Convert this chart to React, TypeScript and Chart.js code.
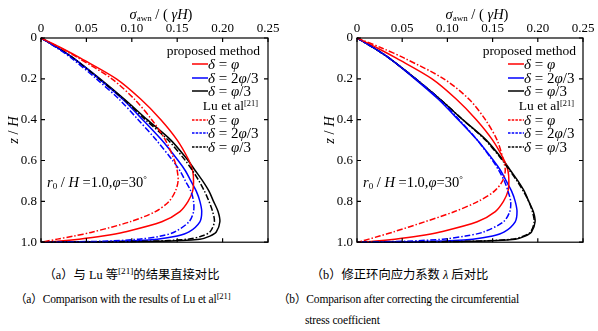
import React, { useEffect, useRef } from "react";
import { Chart, registerables } from "chart.js";

Chart.register(...registerables);

// ---------- data ----------
// normalised depth z/H (shared sampling for every curve)
const depth = [0, 0.05, 0.1, 0.2, 0.3, 0.4, 0.5, 0.6, 0.65, 0.7, 0.75, 0.8, 0.85, 0.9, 0.95, 0.97, 0.985, 0.995, 1];

// proposed method (identical in both panels)
const propPhi = [0, 0.023, 0.044, 0.083, 0.11, 0.132, 0.15, 0.163, 0.167, 0.168, 0.167, 0.162, 0.153, 0.133, 0.092, 0.068, 0.042, 0.018, 0];
const prop2Phi3 = [0, 0.019, 0.036, 0.064, 0.09, 0.112, 0.133, 0.151, 0.159, 0.165, 0.171, 0.175, 0.177, 0.175, 0.163, 0.15, 0.128, 0.085, 0];
const propPhi3 = [0, 0.019, 0.036, 0.065, 0.092, 0.117, 0.143, 0.162, 0.17, 0.178, 0.185, 0.19, 0.195, 0.197, 0.193, 0.186, 0.175, 0.13, 0];

// Lu et al [21] — panel (a): direct results
const luPhiA = [0, 0.022, 0.042, 0.078, 0.103, 0.122, 0.137, 0.147, 0.15, 0.151, 0.148, 0.141, 0.126, 0.098, 0.057, 0.036, 0.018, 0.006, 0];
const lu2Phi3A = [0, 0.018, 0.034, 0.061, 0.086, 0.107, 0.127, 0.145, 0.153, 0.159, 0.165, 0.168, 0.168, 0.163, 0.147, 0.132, 0.108, 0.07, 0];
const luPhi3A = [0, 0.019, 0.036, 0.064, 0.091, 0.115, 0.14, 0.159, 0.167, 0.174, 0.18, 0.185, 0.189, 0.191, 0.186, 0.177, 0.162, 0.12, 0];

// Lu et al [21] — panel (b): after correcting the circumferential stress coefficient
const luPhiB = [0, 0.028, 0.053, 0.096, 0.124, 0.142, 0.155, 0.162, 0.164, 0.161, 0.152, 0.134, 0.108, 0.075, 0.04, 0.025, 0.013, 0.005, 0];
const lu2Phi3B = [0, 0.019, 0.036, 0.065, 0.091, 0.113, 0.133, 0.15, 0.157, 0.163, 0.167, 0.17, 0.169, 0.162, 0.14, 0.12, 0.095, 0.055, 0];
const luPhi3B = [0, 0.019, 0.036, 0.065, 0.092, 0.117, 0.142, 0.161, 0.169, 0.177, 0.184, 0.19, 0.194, 0.196, 0.192, 0.184, 0.172, 0.13, 0];

// axis ticks
const xTicks = [0, 0.05, 0.1, 0.15, 0.2, 0.25];
const xTickLabels = ["0", "0.05", "0.10", "0.15", "0.20", "0.25"];
const yTicks = [0, 0.2, 0.4, 0.6, 0.8, 1.0];
const yTickLabels = ["0", "0.2", "0.4", "0.6", "0.8", "1.0"];

const RED = "#ff0000";
const BLUE = "#0000ff";
const BLACK = "#000000";
const DASHDOT = [6, 2, 1.5, 2];
const FONT = '"Liberation Serif", "Times New Roman", serif';
const CJK = '"Liberation Serif", "Noto Sans CJK SC", serif';

// ---------- chart ----------
const framePlugin = {
  id: "frame",
  afterDatasetsDraw(chart: any) {
    const { ctx, chartArea } = chart;
    const { left, right, top, bottom } = chartArea;
    const xs = chart.scales.x;
    const ys = chart.scales.y;
    ctx.save();
    ctx.strokeStyle = "#000";
    ctx.lineWidth = 1.2;
    ctx.strokeRect(left, top, right - left, bottom - top);
    const L = 4;
    ctx.beginPath();
    xTicks.forEach((t) => {
      const p = xs.getPixelForValue(t);
      ctx.moveTo(p, top);
      ctx.lineTo(p, top + L);
      ctx.moveTo(p, bottom);
      ctx.lineTo(p, bottom - L);
    });
    yTicks.forEach((t) => {
      const p = ys.getPixelForValue(t);
      ctx.moveTo(left, p);
      ctx.lineTo(left + L, p);
      ctx.moveTo(right, p);
      ctx.lineTo(right - L, p);
    });
    ctx.stroke();
    ctx.restore();
  },
};

function series(vals: number[], color: string, dashed: boolean) {
  return {
    data: depth.map((z, i) => ({ x: vals[i], y: z })),
    borderColor: color,
    borderWidth: 1.5,
    borderDash: dashed ? DASHDOT : [],
    showLine: true,
    pointRadius: 0,
    tension: 0.3,
    fill: false,
    clip: 2,
  };
}

const CANVAS_H = 254;

function PanelChart({ lu, axisWidth, padRight }: { lu: number[][]; axisWidth: number; padRight: number }) {
  const ref = useRef<HTMLCanvasElement>(null);
  useEffect(() => {
    if (!ref.current) return;
    const chart = new Chart(ref.current, {
      type: "scatter",
      data: {
        datasets: [
          series(lu[0], RED, true),
          series(lu[1], BLUE, true),
          series(lu[2], BLACK, true),
          series(propPhi, RED, false),
          series(prop2Phi3, BLUE, false),
          series(propPhi3, BLACK, false),
        ] as any,
      },
      options: {
        animation: false,
        responsive: false,
        devicePixelRatio: 1,
        layout: { padding: { left: 0, top: 0, right: padRight, bottom: 0 } },
        plugins: { legend: { display: false }, tooltip: { enabled: false } },
        scales: {
          x: {
            type: "linear",
            position: "top",
            min: 0,
            max: 0.25,
            grid: { display: false, drawTicks: false },
            border: { display: false },
            afterBuildTicks: (s: any) => {
              s.ticks = xTicks.map((v) => ({ value: v }));
            },
            ticks: {
              padding: 2,
              color: "#000",
              maxRotation: 0,
              autoSkip: false,
              font: { family: FONT, size: 13 },
              callback: (v: any) => xTickLabels[xTicks.findIndex((t) => Math.abs(t - v) < 1e-9)] ?? "",
            },
            afterFit: (s: any) => {
              s.height = 38;
            },
          },
          y: {
            type: "linear",
            reverse: true,
            min: 0,
            max: 1,
            grid: { display: false, drawTicks: false },
            border: { display: false },
            afterBuildTicks: (s: any) => {
              s.ticks = yTicks.map((v) => ({ value: v }));
            },
            ticks: {
              padding: 4,
              color: "#000",
              autoSkip: false,
              font: { family: FONT, size: 13 },
              callback: (v: any) => yTickLabels[yTicks.findIndex((t) => Math.abs(t - v) < 1e-9)] ?? "",
            },
            afterFit: (s: any) => {
              s.width = axisWidth;
            },
          },
        },
      } as any,
      plugins: [framePlugin],
    });
    return () => chart.destroy();
  }, []);
  return <canvas ref={ref} width={299} height={CANVAS_H} style={{ display: "block", width: 299, height: CANVAS_H }} />;
}

// ---------- text helpers ----------
function T({
  x,
  y,
  align = "left",
  size = 13,
  font = FONT,
  spacing = 0,
  children,
}: {
  x: number;
  y: number;
  align?: "left" | "center" | "right";
  size?: number;
  font?: string;
  spacing?: number;
  children: React.ReactNode;
}) {
  const tx = align === "right" ? "-100%" : align === "center" ? "-50%" : "0";
  return (
    <div
      style={{
        position: "absolute",
        left: x,
        top: y,
        transform: `translate(${tx}, -50%)`,
        fontFamily: font,
        fontSize: size,
        letterSpacing: spacing,
        lineHeight: 1,
        whiteSpace: "nowrap",
        color: "#000",
      }}
    >
      {children}
    </div>
  );
}

const subStyle: React.CSSProperties = { fontSize: "0.62em", verticalAlign: "-0.3em", lineHeight: 0 };
const supStyle: React.CSSProperties = { fontSize: "0.62em", verticalAlign: "0.55em", lineHeight: 0 };
const capSup: React.CSSProperties = { fontSize: "0.75em", verticalAlign: "0.5em", lineHeight: 0 };

function Sample({ x, y, color, dashed }: { x: number; y: number; color: string; dashed: boolean }) {
  return (
    <svg style={{ position: "absolute", left: x, top: y - 2 }} width={16} height={4}>
      <line x1={0} y1={2} x2={16} y2={2} stroke={color} strokeWidth={1.5} strokeDasharray={dashed ? "2.5 1.2" : undefined} />
    </svg>
  );
}

const legendRows = [
  { y: 64, color: RED, dashed: false, label: "φ" },
  { y: 78, color: BLUE, dashed: false, label: "2φ/3" },
  { y: 91, color: BLACK, dashed: false, label: "φ/3" },
  { y: 119.5, color: RED, dashed: true, label: "φ" },
  { y: 133, color: BLUE, dashed: true, label: "2φ/3" },
  { y: 146.5, color: BLACK, dashed: true, label: "φ/3" },
];

function deltaLabel(label: string) {
  const m = label.match(/^(\d*)φ(.*)$/);
  const pre = m ? m[1] : "";
  const post = m ? m[2] : "";
  return (
    <>
      <i>δ</i> = {pre}
      <i>φ</i>
      {post}
    </>
  );
}

function Overlay({ dx }: { dx: number }) {
  return (
    <>
      <T x={161 + dx} y={14} align="center" size={14.5}>
        <i>σ</i>
        <span style={subStyle}>awn</span> / ( <i>γH</i>)
      </T>
      <div
        style={{
          position: "absolute",
          left: 13 + dx,
          top: 130,
          transform: "translate(-50%, -50%) rotate(-90deg)",
          fontFamily: FONT,
          fontSize: 14.5,
          lineHeight: 1,
          whiteSpace: "nowrap",
        }}
      >
        <i>z</i> / <i>H</i>
      </div>
      <T x={260 + dx} y={51} align="right" size={13.5}>
        proposed method
      </T>
      <T x={258 + dx} y={106} align="right" size={13.5}>
        Lu et al<span style={supStyle}>[21]</span>
      </T>
      {legendRows.map((r, i) => (
        <React.Fragment key={i}>
          <Sample x={192 + dx} y={r.y} color={r.color} dashed={r.dashed} />
          <T x={208 + dx} y={r.y} size={15}>
            {deltaLabel(r.label)}
          </T>
        </React.Fragment>
      ))}
      <T x={47 + dx} y={182} size={14.5}>
        <i>r</i>
        <span style={subStyle}>0</span> / <i>H</i> =1.0,<i>φ</i>=30<span style={supStyle}>°</span>
      </T>
    </>
  );
}

export default function App() {
  return (
    <div
      style={{
        position: "fixed",
        left: 0,
        top: 0,
        width: 598,
        height: 331,
        background: "#fff",
        overflow: "hidden",
      }}
    >
      <div style={{ position: "absolute", left: 0, top: 0 }}>
        <PanelChart lu={[luPhiA, lu2Phi3A, luPhi3A]} axisWidth={41} padRight={31} />
      </div>
      <div style={{ position: "absolute", left: 299, top: 0 }}>
        <PanelChart lu={[luPhiB, lu2Phi3B, luPhi3B]} axisWidth={58} padRight={15} />
      </div>
      <Overlay dx={0} />
      <Overlay dx={316} />

      <T x={131.5} y={275} align="center" size={12.3} font={CJK}>
        （a）与 Lu 等<span style={capSup}>[21]</span>的结果直接对比
      </T>
      <T x={15} y={300} size={11.5} spacing={-0.15}>
        <span style={{ fontFamily: CJK }}>（a）</span>Comparison with the results of Lu et al
        <span style={capSup}>[21]</span>
      </T>
      <T x={399.5} y={275} align="center" size={12.3} font={CJK}>
        （b）修正环向应力系数 <i>λ</i> 后对比
      </T>
      <T x={278} y={300} size={11.5} spacing={-0.15}>
        <span style={{ fontFamily: CJK }}>（b）</span>Comparison after correcting the circumferential
      </T>
      <T x={305} y={321} size={11.5} spacing={-0.15}>
        stress coefficient
      </T>
    </div>
  );
}
